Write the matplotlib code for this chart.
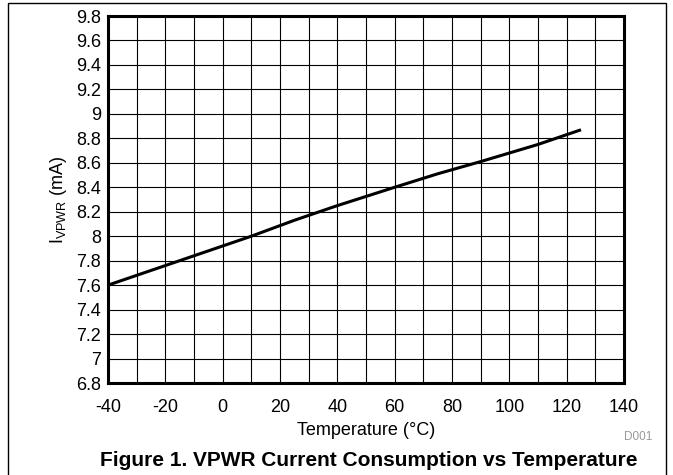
import matplotlib

matplotlib.use("Agg")
import matplotlib.pyplot as plt
from matplotlib.patches import Rectangle

plt.rcParams["font.family"] = ["Liberation Sans", "DejaVu Sans"]
plt.rcParams["axes.unicode_minus"] = False

# IVPWR vs temperature
temp_c = [-40, -20, 0, 10, 25, 40, 60, 75, 90, 100, 110, 125]
i_vpwr_ma = [7.60, 7.76, 7.92, 8.00, 8.13, 8.25, 8.40, 8.51, 8.61, 8.68, 8.75, 8.87]

x_ticks = list(range(-40, 141, 20))
y_ticks = [round(6.8 + 0.2 * k, 1) for k in range(16)]
y_labels = [f"{v:g}" for v in y_ticks]

fig = plt.figure(figsize=(6.73, 4.75), dpi=100, facecolor="white")
ax = fig.add_axes([108 / 673, 1 - 383 / 475, (624 - 108) / 673, (383 - 16) / 475])

ax.plot(temp_c, i_vpwr_ma, color="black", lw=2.2, solid_capstyle="butt", zorder=3)

ax.set_xlim(-40, 140)
ax.set_ylim(6.8, 9.8)
ax.set_xticks(x_ticks)
ax.set_xticks(range(-30, 140, 20), minor=True)
ax.set_yticks(y_ticks)
ax.set_yticklabels(y_labels)
ax.grid(True, which="both", color="black", lw=0.8)
ax.tick_params(which="both", length=0, labelsize=13)
ax.tick_params(axis="x", pad=11.5)
ax.tick_params(axis="y", pad=5)
for s in ax.spines.values():
    s.set_linewidth(2.2)
    s.set_zorder(4)

ax.set_xlabel("Temperature (°C)", fontsize=13, labelpad=4)
ax.set_ylabel(r"I$_{\mathregular{VPWR}}$ (mA)", fontsize=13, labelpad=5)

fig.text(652 / 673, 1 - 437 / 475, "D001", ha="right", va="center",
         fontsize=8.5, color="#999999")
fig.text(369 / 673, 1 - 460 / 475,
         "Figure 1. VPWR Current Consumption vs Temperature",
         ha="center", va="center", fontsize=15, fontweight="bold")

# outer frame (open at the bottom)
fig.patches.append(Rectangle((8 / 673, -0.05), (666 - 8) / 673, 1.05 - 3 / 475,
                             transform=fig.transFigure, fill=False,
                             edgecolor="black", lw=1.0))

fig.savefig("out.png", dpi=100, facecolor="white")
plt.close(fig)
